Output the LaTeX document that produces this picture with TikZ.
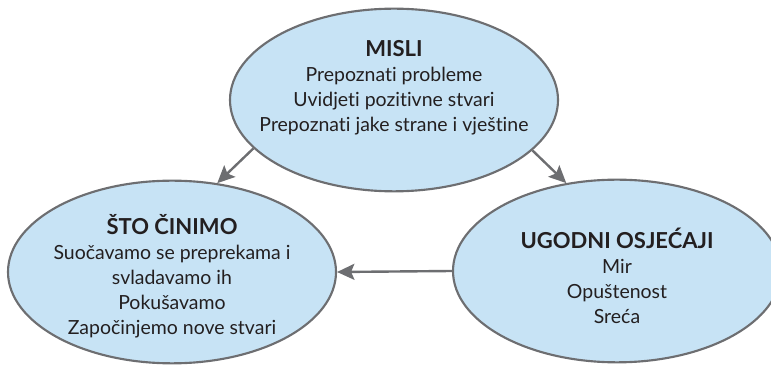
\documentclass[tikz,border=0pt]{standalone}
\usepackage{fontspec}
\setmainfont{Lato}[Ligatures=NoCommon]
\usepackage{tikz}
\usetikzlibrary{shapes.geometric, arrows.meta, positioning}
\usepackage{xcolor}
\definecolor{bubblefill}{RGB}{199,227,245}
\definecolor{linegrey}{RGB}{109,110,113}
\definecolor{textdark}{RGB}{35,31,32}
\newcommand{\headtxt}[1]{{\fontsize{16.5}{18.75}\selectfont\bfseries #1}}

\begin{document}
\begin{tikzpicture}[
  x=0.75pt, y=-0.75pt,
  bubble/.style={ellipse, draw=linegrey, line width=1.6pt, fill=bubblefill, minimum width=246pt, minimum height=137pt, inner sep=0pt},
  txt/.style={align=center, text=textdark, font=\fontsize{14.6}{18.75}\selectfont},
  arrow/.style={-{Stealth[length=13pt, width=12pt, inset=2.5pt]}, line width=1.8pt, linegrey}
]
  \clip (0,0) rectangle (771,366);
  \useasboundingbox (0,0) rectangle (771,366);

  % Thoughts
  \node[bubble] (misli) at (394,100) {};
  \node[txt] (mislitxt) at ([yshift=9pt]misli.center) {\headtxt{MISLI}\\Prepoznati probleme\\Uvidjeti pozitivne stvari\\Prepoznati jake strane i vještine};

  % What we do
  \node[bubble] (cinimo) at (172,272) {};
  \node[txt] (cinimotxt) at ([yshift=-3pt]cinimo.center) {\headtxt{ŠTO ČINIMO}\\Suočavamo se preprekama i\\svladavamo ih\\Pokušavamo\\Započinjemo nove stvari};

  % Pleasant feelings
  \node[bubble] (osjecaji) at (617,271) {};
  \node[txt] (osjecajitxt) at ([yshift=-4pt]osjecaji.center) {\headtxt{UGODNI OSJEĆAJI}\\Mir\\Opuštenost\\Sreća};

  \draw[arrow] (misli.199) -- (cinimo.63);
  \draw[arrow] (misli.340) -- (osjecaji.120);
  \draw[arrow] (osjecaji.west) -- (cinimo.east);
\end{tikzpicture}
\end{document}
